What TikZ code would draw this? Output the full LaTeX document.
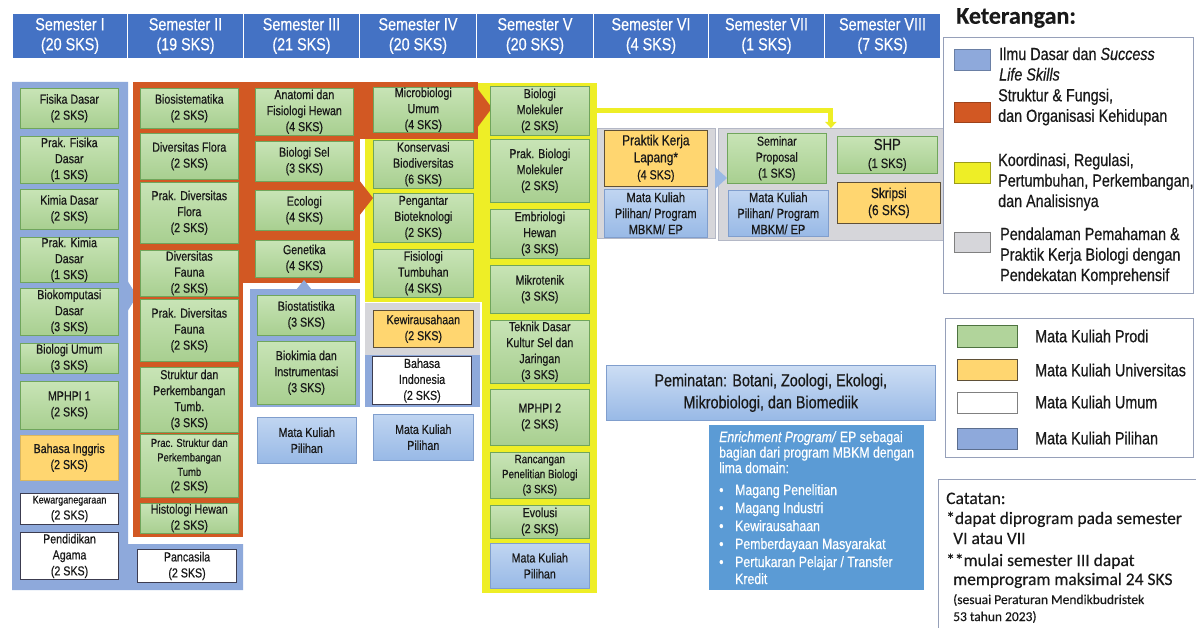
\documentclass[tikz,border=0pt]{standalone}
\usepackage{fontspec}
\setmainfont{Liberation Sans}[FakeStretch=0.82,FakeBold=0.5]
\newfontfamily\calfont{Carlito}[FakeBold=0.3]
\usetikzlibrary{arrows.meta}
\newcommand\fsz[2]{\fontsize{#1}{#2}\selectfont}
\definecolor{headC}{RGB}{68,114,196}
\definecolor{blueR}{RGB}{142,169,219}
\definecolor{orC}{RGB}{210,88,35}
\definecolor{yelC}{RGB}{238,238,38}
\definecolor{grayC}{RGB}{214,214,218}
\definecolor{grayBd}{RGB}{180,184,198}
\definecolor{gTop}{RGB}{200,228,182}
\definecolor{gBot}{RGB}{168,207,144}
\definecolor{gBd}{RGB}{112,165,92}
\definecolor{uniC}{RGB}{255,214,112}
\definecolor{uniBd}{RGB}{95,80,55}
\definecolor{pTop}{RGB}{192,213,241}
\definecolor{pBot}{RGB}{152,185,230}
\definecolor{pBd}{RGB}{128,158,205}
\definecolor{wBd}{RGB}{60,60,80}
\definecolor{txtC}{RGB}{25,25,25}
\definecolor{epC}{RGB}{91,155,213}
\definecolor{lgBd}{RGB}{150,160,185}
\definecolor{arrB}{RGB}{155,185,228}
\newcommand\bx[7]{\node[#2, minimum width={#5-#3}, minimum height={#6-#4}] (#1) at (#3,#4) {#7};}
\newcommand\rg[6]{\node[#2, minimum width={#5-#3}, minimum height={#6-#4}] (#1) at (#3,#4) {};}
\newcommand\blt{\makebox[16pt][l]{\textbullet}}
\tikzset{
 base/.style={inner sep=0pt, anchor=north west, align=center, text=txtC, font=\fsz{13}{16}},
 gbox/.style={base, draw=gBd, line width=0.6pt, top color=gTop, bottom color=gBot},
 ubox/.style={base, draw=uniBd, line width=0.7pt, fill=uniC},
 wbox/.style={base, draw=wBd, line width=1.1pt, fill=white},
 pbox/.style={base, draw=pBd, line width=0.6pt, top color=pTop, bottom color=pBot},
 reg/.style={inner sep=0pt, anchor=north west},
 hd/.style={inner sep=0pt, anchor=north west, fill=headC, draw=white, line width=1pt, text=white, align=center, font=\fsz{17.5}{20}},
 lgtxt/.style={anchor=west, align=left, inner sep=0pt, text=txtC, font=\fsz{17.5}{20.5}},
 sw/.style={inner sep=0pt, anchor=north west, line width=0.8pt},
 cat/.style={anchor=base west, inner sep=0pt, text=txtC, font=\calfont\fsz{17.5}{21}},
 yconn/.style={draw=yelC, line width=5pt, -{Triangle[width=11pt,length=6pt]}},
}
\begin{document}
\begin{tikzpicture}[x=1pt,y=-1pt]
\useasboundingbox (0,0) rectangle (1196,628);
\fill[white] (0,0) rectangle (1196,628);
% header
\bx{h1}{hd}{12}{13}{127}{58}{Semester I\\(20 SKS)}
\bx{h2}{hd}{127}{13}{243}{58}{Semester II\\(19 SKS)}
\bx{h3}{hd}{243}{13}{359}{58}{Semester III\\(21 SKS)}
\bx{h4}{hd}{359}{13}{476}{58}{Semester IV\\(20 SKS)}
\bx{h5}{hd}{476}{13}{593}{58}{Semester V\\(20 SKS)}
\bx{h6}{hd}{593}{13}{708}{58}{Semester VI\\(4 SKS)}
\bx{h7}{hd}{708}{13}{824}{58}{Semester VII\\(1 SKS)}
\bx{h8}{hd}{824}{13}{940}{58}{Semester VIII\\(7 SKS)}
% regions
\fill[blueR] (12,82) -- (128,82) -- (128,544) -- (243,544) -- (243,590) -- (12,590) -- cycle;
\fill[blueR] (127,280) -- (137,296) -- (127,312) -- cycle;
\rg{yIV}{reg, fill=yelC}{365}{83}{483}{302}
\rg{yV}{reg, fill=yelC}{482}{83}{597}{593}
\rg{oII}{reg, fill=orC}{133}{82}{243}{537}
\rg{oIII}{reg, fill=orC}{242}{82}{360}{283}
\rg{oIV}{reg, fill=orC}{359}{82}{478}{139}
\fill[orC] (477,88) -- (492,108) -- (477,128) -- cycle;
\fill[orC] (359,180) -- (373,198) -- (359,216) -- cycle;
\rg{bIII}{reg, fill=blueR}{250}{289}{360}{407}
\fill[blueR] (296,290) -- (304,280) -- (312,290) -- cycle;
\rg{gIV}{reg, fill=grayC}{365}{303}{480}{355}
\rg{bIV}{reg, fill=blueR}{365}{355}{480}{407}
\rg{gVI}{reg, fill=grayC, draw=grayBd, line width=0.8pt}{597}{128}{715}{238}
\rg{gB}{reg, fill=grayC, draw=grayBd, line width=0.8pt}{718}{128}{943}{240}
\fill[arrB] (715,167) -- (727,178) -- (715,189) -- cycle;
% semester I
\bx{f1}{gbox}{20}{88}{118}{128}{Fisika Dasar\\(2 SKS)}
\bx{f2}{gbox}{20}{136}{118}{183}{Prak. Fisika\\Dasar\\(1 SKS)}
\bx{f3}{gbox}{20}{189}{118}{229}{Kimia Dasar\\(2 SKS)}
\bx{f4}{gbox}{20}{237}{118}{282}{Prak. Kimia\\Dasar\\(1 SKS)}
\bx{f5}{gbox}{20}{288}{118}{335}{Biokomputasi\\Dasar\\(3 SKS)}
\bx{f6}{gbox}{20}{343}{118}{373}{Biologi Umum\\(3 SKS)}
\bx{f7}{gbox}{20}{381}{118}{429}{MPHPI 1\\(2 SKS)}
\bx{f8}{ubox, draw=uniC!85!black, line width=0.4pt}{20}{435}{118}{480}{Bahasa Inggris\\(2 SKS)}
\bx{f9}{wbox}{20}{493}{118}{524}{{\fsz{11}{14}Kewarganegaraan}\\(2 SKS)}
\bx{f10}{wbox}{20}{532}{118}{579}{Pendidikan\\Agama\\(2 SKS)}
% semester II
\bx{s1}{gbox}{140}{88}{238}{128}{Biosistematika\\(2 SKS)}
\bx{s2}{gbox}{140}{133}{238}{179}{Diversitas Flora\\(2 SKS)}
\bx{s3}{gbox}{140}{182}{238}{243}{Prak. Diversitas\\Flora\\(2 SKS)}
\bx{s4}{gbox}{140}{250}{238}{296}{Diversitas\\Fauna\\(2 SKS)}
\bx{s5}{gbox}{140}{299}{238}{361}{Prak. Diversitas\\Fauna\\(2 SKS)}
\bx{s6}{gbox}{140}{367}{238}{432}{Struktur dan\\Perkembangan\\Tumb.\\(3 SKS)}
\bx{s7}{gbox, font=\fsz{11.5}{14.5}}{140}{434}{238}{497}{Prac. Struktur dan\\Perkembangan\\Tumb\\{\fsz{13}{16}(2 SKS)}}
\bx{s8}{gbox}{140}{503}{238}{533}{Histologi Hewan\\(2 SKS)}
\bx{s9}{wbox}{137}{549}{236}{582}{Pancasila\\(2 SKS)}
% semester III
\bx{t1}{gbox}{255}{88}{353}{135}{Anatomi dan\\Fisiologi Hewan\\(4 SKS)}
\bx{t2}{gbox}{255}{141}{353}{181}{Biologi Sel\\(3 SKS)}
\bx{t3}{gbox}{255}{190}{353}{230}{Ecologi\\(4 SKS)}
\bx{t4}{gbox}{255}{240}{353}{277}{Genetika\\(4 SKS)}
\bx{t5}{gbox}{257}{295}{355}{335}{Biostatistika\\(3 SKS)}
\bx{t6}{gbox}{257}{341}{355}{404}{Biokimia dan\\Instrumentasi\\(3 SKS)}
\bx{t7}{pbox}{257}{417}{356}{463}{Mata Kuliah\\Pilihan}
% semester IV
\bx{u1}{gbox}{373}{87}{473}{132}{Microbiologi\\Umum\\(4 SKS)}
\bx{u2}{gbox}{373}{140}{473}{188}{Konservasi\\Biodiversitas\\(6 SKS)}
\bx{u3}{gbox}{373}{193}{473}{242}{Pengantar\\Bioteknologi\\(2 SKS)}
\bx{u4}{gbox}{373}{249}{473}{297}{Fisiologi\\Tumbuhan\\(4 SKS)}
\bx{u5}{ubox}{373}{310}{473}{347}{Kewirausahaan\\(2 SKS)}
\bx{u6}{wbox}{372}{356}{471}{404}{Bahasa\\Indonesia\\(2 SKS)}
\bx{u7}{pbox}{373}{414}{473}{460}{Mata Kuliah\\Pilihan}
% semester V
\bx{v1}{gbox}{490}{86}{589}{135}{Biologi\\Molekuler\\(2 SKS)}
\bx{v2}{gbox}{490}{139}{589}{202}{Prak. Biologi\\Molekuler\\(2 SKS)}
\bx{v3}{gbox}{490}{209}{589}{258}{Embriologi\\Hewan\\(3 SKS)}
\bx{v4}{gbox}{490}{265}{589}{313}{Mikrotenik\\(3 SKS)}
\bx{v5}{gbox}{490}{320}{589}{383}{Teknik Dasar\\Kultur Sel dan\\Jaringan\\(3 SKS)}
\bx{v6}{gbox}{490}{389}{589}{445}{MPHPI 2\\(2 SKS)}
\bx{v7}{gbox, font=\fsz{12}{15}}{490}{452}{589}{498}{Rancangan\\Penelitian Biologi\\(3 SKS)}
\bx{v8}{gbox}{490}{505}{589}{538}{Evolusi\\(2 SKS)}
\bx{v9}{pbox}{490}{543}{589}{588}{Mata Kuliah\\Pilihan}
% semester VI - VIII
\bx{w1}{ubox, font=\fsz{14.5}{17}}{604}{130}{707}{186}{Praktik Kerja\\Lapang*\\{\fsz{13}{16}(4 SKS)}}
\bx{w2}{pbox, font=\fsz{13.5}{16}}{604}{189}{707}{237}{Mata Kuliah\\Pilihan/ Program\\MBKM/ EP}
\bx{x1}{gbox}{727}{133}{826}{183}{Seminar\\Proposal\\(1 SKS)}
\bx{x2}{pbox, font=\fsz{13.5}{16}}{728}{190}{828}{236}{Mata Kuliah\\Pilihan/ Program\\MBKM/ EP}
\bx{y1}{gbox, font=\fsz{16}{18}}{837}{136}{937}{173}{SHP\\{\fsz{13.5}{16}(1 SKS)}}
\bx{y2}{ubox, font=\fsz{14.5}{17}}{837}{182}{940}{223}{Skripsi\\(6 SKS)}
\draw[yconn] (yV.east |- v1.center) -| (gB.north);
% peminatan & EP
\bx{pem}{pbox, font=\fsz{17.5}{22}, top color=pTop!80!white, bottom color=pBot}{606}{365}{935}{420}{Peminatan: Botani, Zoologi, Ekologi,\\Mikrobiologi, dan Biomediik}
\rg{ep}{reg, fill=epC}{709}{425}{924}{590}
\node[anchor=north west, inner sep=0pt, align=left, text=white, font=\fsz{15}{15.5}] (eptxt) at (719,431) {\textit{Enrichment Program/} EP sebagai\\
bagian dari program MBKM dengan\\
lima domain:\\[6.5pt]
\blt Magang Penelitian\\[2.5pt]
\blt Magang Industri\\[2.5pt]
\blt Kewirausahaan\\[2.5pt]
\blt Pemberdayaan Masyarakat\\[2.5pt]
\blt Pertukaran Pelajar / Transfer\\[1.5pt]
\hspace*{16pt}Kredit};
% legend
\node[anchor=west, inner sep=0pt, font=\calfont\bfseries\fsz{24}{28}, text=txtC] (ket) at (956,18) {Keterangan:};
\rg{lg1}{reg, fill=white, draw=lgBd, line width=0.8pt}{943}{37}{1193}{293}
\rg{sw1}{sw, fill=blueR, draw=blueR!75!black}{954}{49}{990}{70}
\rg{sw2}{sw, fill=orC, draw=orC!75!black}{954}{102}{990}{122}
\rg{sw3}{sw, fill=yelC, draw=yelC!65!black}{954}{162}{990}{183}
\rg{sw4}{sw, fill=grayC, draw=gray}{954}{232}{990}{252}
\node[lgtxt] (lt1) at (999,64) {Ilmu Dasar dan \textit{Success}\\\textit{Life Skills}};
\node[lgtxt] (lt2) at (998,107) {Struktur \& Fungsi,\\dan Organisasi Kehidupan};
\node[lgtxt] (lt3) at (998,182) {Koordinasi, Regulasi,\\Pertumbuhan, Perkembangan,\\dan Analisisnya};
\node[lgtxt] (lt4) at (1000,256) {Pendalaman Pemahaman \&\\Praktik Kerja Biologi dengan\\Pendekatan Komprehensif};
\rg{lg2}{reg, fill=white, draw=lgBd, line width=0.8pt}{945}{318}{1193}{457}
\rg{sw5}{sw, fill=gBot!90!white, draw=gBd!70!black}{957}{325}{1017}{347}
\rg{sw6}{sw, fill=uniC, draw=uniBd}{957}{359}{1017}{380}
\rg{sw7}{sw, fill=white, draw=gray}{957}{392}{1017}{413}
\rg{sw8}{sw, fill=blueR, draw=blueR!65!black}{957}{428}{1017}{449}
\node[lgtxt] (lt5) at (1035,336) {Mata Kuliah Prodi};
\node[lgtxt] (lt6) at (1035,370) {Mata Kuliah Universitas};
\node[lgtxt] (lt7) at (1035,402) {Mata Kuliah Umum};
\node[lgtxt] (lt8) at (1035,438) {Mata Kuliah Pilihan};
% catatan
\rg{catbox}{reg, fill=white, draw=lgBd, line width=0.8pt}{938}{479}{1205}{640}
\node[cat] (c1) at (946,504) {Catatan:};
\node[cat] (c2) at (946,524) {*dapat diprogram pada semester};
\node[cat] (c3) at (953,544) {VI atau VII};
\node[cat] (c4) at (946,566) {**mulai semester III dapat};
\node[cat] (c5) at (953,585) {memprogram maksimal 24 SKS};
\node[cat, font=\calfont\fsz{13.5}{16}] (c6) at (953,604) {(sesuai Peraturan Mendikbudristek};
\node[cat, font=\calfont\fsz{13.5}{16}] (c7) at (953,621) {53 tahun 2023)};
\end{tikzpicture}
\end{document}
